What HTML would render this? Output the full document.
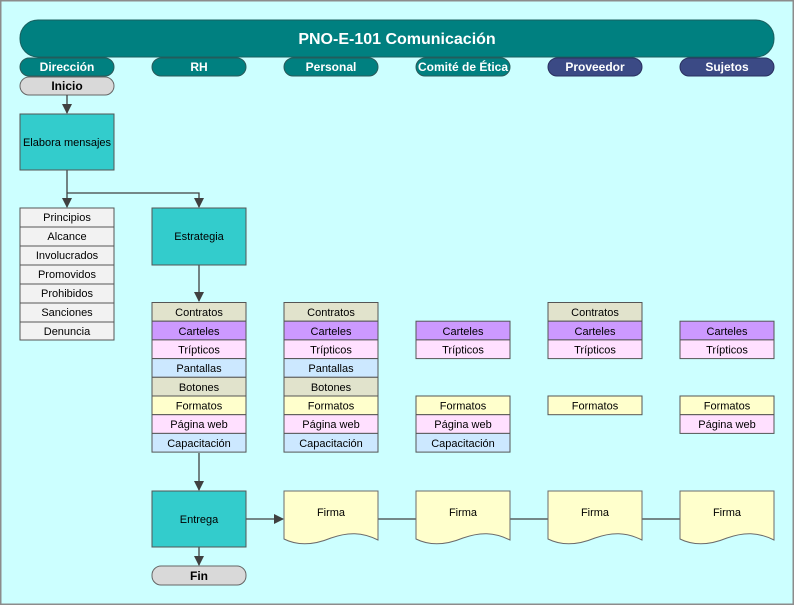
<!DOCTYPE html>
<html><head><meta charset="utf-8"><style>
html,body{margin:0;padding:0;background:#fff;}
svg{display:block;font-family:"Liberation Sans",sans-serif;}
</style></head><body>
<svg width="794" height="605" viewBox="0 0 794 605" xmlns="http://www.w3.org/2000/svg">
<defs><marker id="ar" markerWidth="10" markerHeight="10" refX="9" refY="5" orient="auto" markerUnits="userSpaceOnUse"><path d="M0,0 L10,5 L0,10 Z" fill="#404040"/></marker></defs>
<rect x="0.5" y="0.5" width="793" height="604" fill="#ccffff" stroke="#8c8c8c" stroke-width="2"/>
<rect x="20" y="20" width="754" height="37" rx="18" fill="#008080" stroke="#1a5f5f"/>
<text x="397" y="44" text-anchor="middle" font-size="16" font-weight="bold" fill="#fff">PNO-E-101 Comunicación</text>
<g font-size="12" font-weight="bold" fill="#fff" text-anchor="middle">
<rect x="20" y="58" width="94" height="18" rx="9" fill="#008080" stroke="#2a5a5a"/><text x="67" y="71">Dirección</text>
<rect x="152" y="58" width="94" height="18" rx="9" fill="#008080" stroke="#2a5a5a"/><text x="199" y="71">RH</text>
<rect x="284" y="58" width="94" height="18" rx="9" fill="#008080" stroke="#2a5a5a"/><text x="331" y="71">Personal</text>
<rect x="416" y="58" width="94" height="18" rx="9" fill="#008080" stroke="#2a5a5a"/><text x="463" y="71">Comité de Ética</text>
<rect x="548" y="58" width="94" height="18" rx="9" fill="#3b4a85" stroke="#2a3060"/><text x="595" y="71">Proveedor</text>
<rect x="680" y="58" width="94" height="18" rx="9" fill="#3b4a85" stroke="#2a3060"/><text x="727" y="71">Sujetos</text>
</g>
<g font-size="12" font-weight="bold" fill="#000" text-anchor="middle">
<rect x="20" y="77" width="94" height="18" rx="9" fill="#d9d9d9" stroke="#666"/><text x="67" y="90">Inicio</text>
<rect x="152" y="566" width="94" height="19" rx="9" fill="#d9d9d9" stroke="#666"/><text x="199" y="580">Fin</text>
</g>
<g stroke="#404040" stroke-width="1.3" fill="none">
<path d="M67,95 V113" marker-end="url(#ar)"/>
<path d="M67,170 V207" marker-end="url(#ar)"/>
<path d="M67,193 H199 V207" marker-end="url(#ar)"/>
<path d="M199,265 V301" marker-end="url(#ar)"/>
<path d="M199,453 V490" marker-end="url(#ar)"/>
<path d="M199,547 V565" marker-end="url(#ar)"/>
<path d="M246,519 H283" marker-end="url(#ar)"/>
<path d="M378,519 H416 M510,519 H548 M642,519 H680"/>
</g>
<g font-size="11" fill="#000" text-anchor="middle" stroke="#555">
<rect x="20" y="114" width="94" height="56" fill="#33cccc"/><text x="67" y="146" stroke="none">Elabora mensajes</text>
<rect x="152" y="208" width="94" height="57" fill="#33cccc"/><text x="199" y="240" stroke="none">Estrategia</text>
<rect x="152" y="491" width="94" height="56" fill="#33cccc"/><text x="199" y="523" stroke="none">Entrega</text>
</g>
<g font-size="11" fill="#000" text-anchor="middle" stroke="#555">
<rect x="20" y="208" width="94" height="19" fill="#f2f2f2"/><text x="67" y="221" stroke="none">Principios</text>
<rect x="20" y="227" width="94" height="19" fill="#f2f2f2"/><text x="67" y="240" stroke="none">Alcance</text>
<rect x="20" y="246" width="94" height="19" fill="#f2f2f2"/><text x="67" y="259" stroke="none">Involucrados</text>
<rect x="20" y="265" width="94" height="19" fill="#f2f2f2"/><text x="67" y="278" stroke="none">Promovidos</text>
<rect x="20" y="284" width="94" height="19" fill="#f2f2f2"/><text x="67" y="297" stroke="none">Prohibidos</text>
<rect x="20" y="303" width="94" height="19" fill="#f2f2f2"/><text x="67" y="316" stroke="none">Sanciones</text>
<rect x="20" y="322" width="94" height="18" fill="#f2f2f2"/><text x="67" y="335" stroke="none">Denuncia</text>
</g>
<g font-size="11" fill="#000" text-anchor="middle" stroke="#555">
<!-- column B -->
<rect x="152" y="302.5" width="94" height="18.7" fill="#e1e3cc"/><text x="199" y="316" stroke="none">Contratos</text>
<rect x="152" y="321.2" width="94" height="18.7" fill="#cc99ff"/><text x="199" y="335" stroke="none">Carteles</text>
<rect x="152" y="339.9" width="94" height="18.7" fill="#ffe0ff"/><text x="199" y="353.5" stroke="none">Trípticos</text>
<rect x="152" y="358.6" width="94" height="18.7" fill="#cce8ff"/><text x="199" y="372" stroke="none">Pantallas</text>
<rect x="152" y="377.3" width="94" height="18.7" fill="#e1e3cc"/><text x="199" y="391" stroke="none">Botones</text>
<rect x="152" y="396" width="94" height="18.7" fill="#ffffcc"/><text x="199" y="409.5" stroke="none">Formatos</text>
<rect x="152" y="414.7" width="94" height="18.7" fill="#ffe0ff"/><text x="199" y="428" stroke="none">Página web</text>
<rect x="152" y="433.4" width="94" height="18.7" fill="#cce8ff"/><text x="199" y="447" stroke="none">Capacitación</text>
<!-- column C -->
<rect x="284" y="302.5" width="94" height="18.7" fill="#e1e3cc"/><text x="331" y="316" stroke="none">Contratos</text>
<rect x="284" y="321.2" width="94" height="18.7" fill="#cc99ff"/><text x="331" y="335" stroke="none">Carteles</text>
<rect x="284" y="339.9" width="94" height="18.7" fill="#ffe0ff"/><text x="331" y="353.5" stroke="none">Trípticos</text>
<rect x="284" y="358.6" width="94" height="18.7" fill="#cce8ff"/><text x="331" y="372" stroke="none">Pantallas</text>
<rect x="284" y="377.3" width="94" height="18.7" fill="#e1e3cc"/><text x="331" y="391" stroke="none">Botones</text>
<rect x="284" y="396" width="94" height="18.7" fill="#ffffcc"/><text x="331" y="409.5" stroke="none">Formatos</text>
<rect x="284" y="414.7" width="94" height="18.7" fill="#ffe0ff"/><text x="331" y="428" stroke="none">Página web</text>
<rect x="284" y="433.4" width="94" height="18.7" fill="#cce8ff"/><text x="331" y="447" stroke="none">Capacitación</text>
<!-- column D -->
<rect x="416" y="321.2" width="94" height="18.7" fill="#cc99ff"/><text x="463" y="335" stroke="none">Carteles</text>
<rect x="416" y="339.9" width="94" height="18.7" fill="#ffe0ff"/><text x="463" y="353.5" stroke="none">Trípticos</text>
<rect x="416" y="396" width="94" height="18.7" fill="#ffffcc"/><text x="463" y="409.5" stroke="none">Formatos</text>
<rect x="416" y="414.7" width="94" height="18.7" fill="#ffe0ff"/><text x="463" y="428" stroke="none">Página web</text>
<rect x="416" y="433.4" width="94" height="18.7" fill="#cce8ff"/><text x="463" y="447" stroke="none">Capacitación</text>
<!-- column E -->
<rect x="548" y="302.5" width="94" height="18.7" fill="#e1e3cc"/><text x="595" y="316" stroke="none">Contratos</text>
<rect x="548" y="321.2" width="94" height="18.7" fill="#cc99ff"/><text x="595" y="335" stroke="none">Carteles</text>
<rect x="548" y="339.9" width="94" height="18.7" fill="#ffe0ff"/><text x="595" y="353.5" stroke="none">Trípticos</text>
<rect x="548" y="396" width="94" height="18.7" fill="#ffffcc"/><text x="595" y="409.5" stroke="none">Formatos</text>
<!-- column F -->
<rect x="680" y="321.2" width="94" height="18.7" fill="#cc99ff"/><text x="727" y="335" stroke="none">Carteles</text>
<rect x="680" y="339.9" width="94" height="18.7" fill="#ffe0ff"/><text x="727" y="353.5" stroke="none">Trípticos</text>
<rect x="680" y="396" width="94" height="18.7" fill="#ffffcc"/><text x="727" y="409.5" stroke="none">Formatos</text>
<rect x="680" y="414.7" width="94" height="18.7" fill="#ffe0ff"/><text x="727" y="428" stroke="none">Página web</text>
</g>
<g font-size="11" fill="#000" text-anchor="middle" stroke="#6b6b6b">
<path d="M284,491 H378 V540 C362,532 348,532 331,538 C314,545 298,546 284,539 Z" fill="#ffffcc"/><text x="331" y="516" stroke="none">Firma</text>
<path d="M416,491 H510 V540 C494,532 480,532 463,538 C446,545 430,546 416,539 Z" fill="#ffffcc"/><text x="463" y="516" stroke="none">Firma</text>
<path d="M548,491 H642 V540 C626,532 612,532 595,538 C578,545 562,546 548,539 Z" fill="#ffffcc"/><text x="595" y="516" stroke="none">Firma</text>
<path d="M680,491 H774 V540 C758,532 744,532 727,538 C710,545 694,546 680,539 Z" fill="#ffffcc"/><text x="727" y="516" stroke="none">Firma</text>
</g>
</svg>
</body></html>
